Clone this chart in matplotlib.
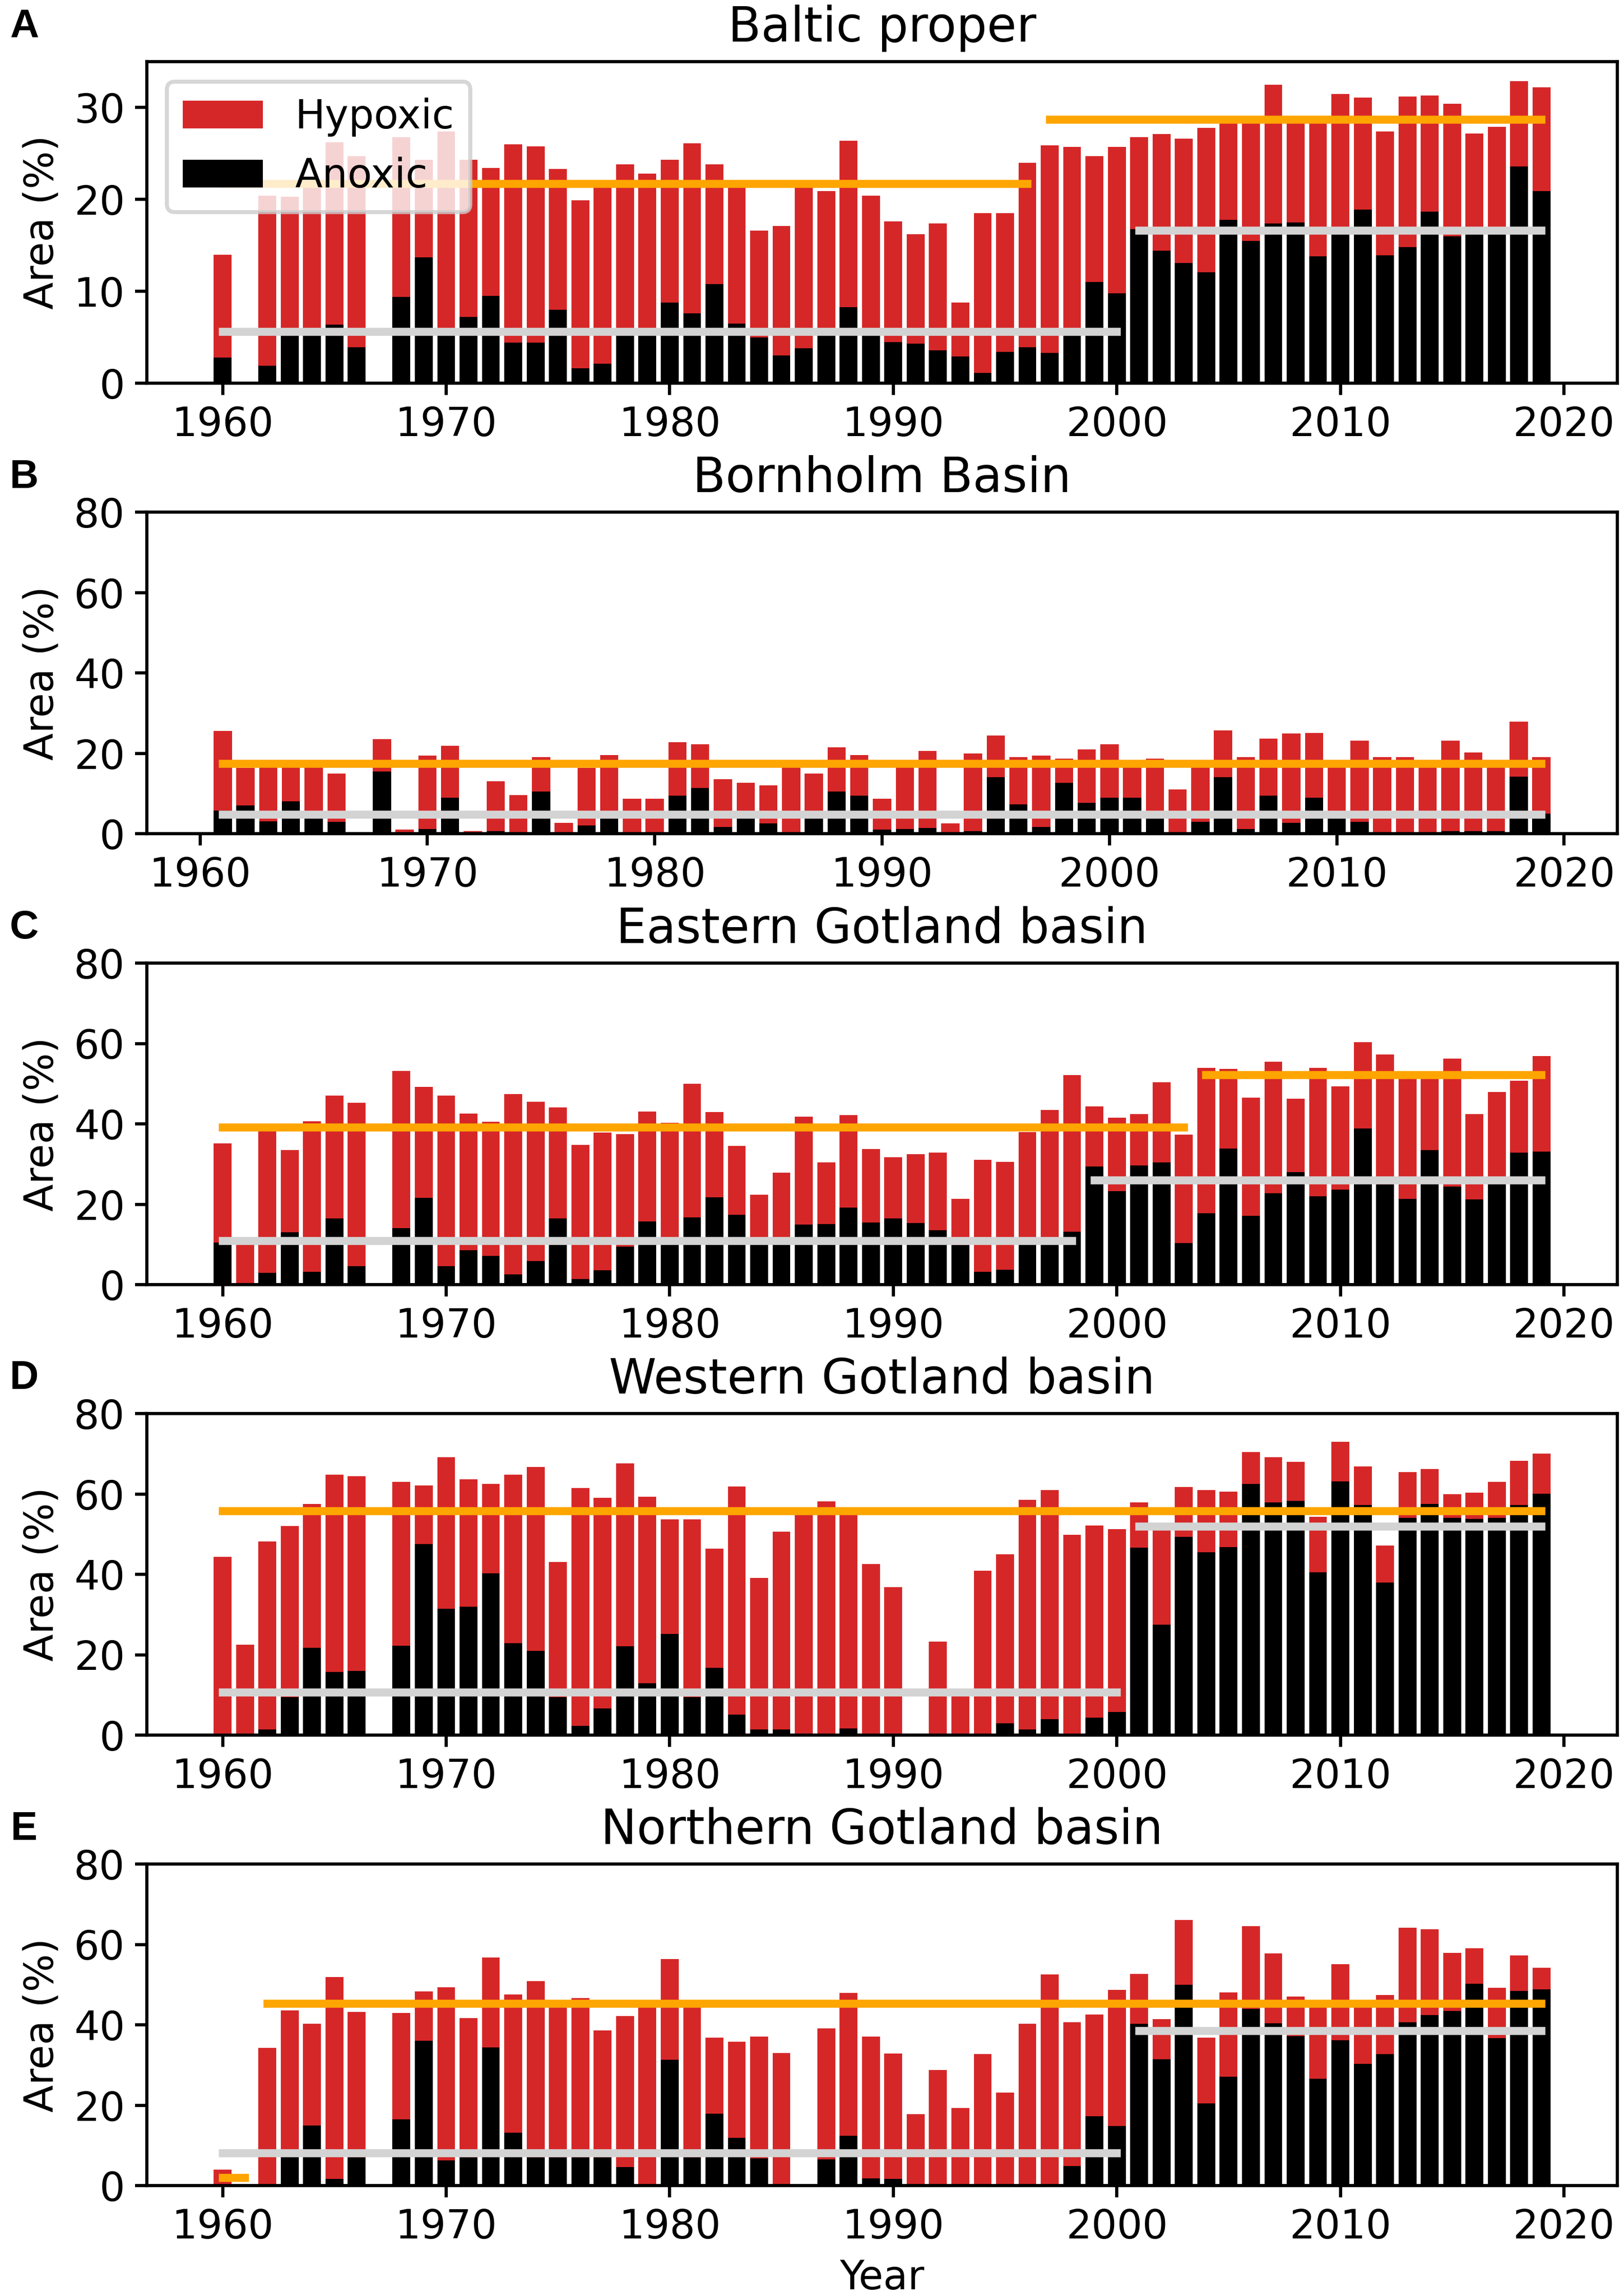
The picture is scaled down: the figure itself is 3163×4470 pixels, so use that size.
import numpy as np
import matplotlib
matplotlib.use('Agg')
from matplotlib import pyplot as plt

nan = np.nan
years = np.arange(1960, 2020)

# Baltic proper
baltic_hyp = [14.0, nan, 20.4, 20.3, 21.5, 26.2, 24.7, nan, 26.8, 24.3,
              27.4, 24.3, 23.4, 26.0, 25.8, 23.3, 19.9, 22.1, 23.8, 22.8,
              24.3, 26.1, 23.8, 21.5, 16.6, 17.1, 22.0, 20.9, 26.4, 20.4,
              17.6, 16.2, 17.4, 8.8, 18.5, 18.5, 24.0, 25.9, 25.7, 24.7,
              25.7, 26.8, 27.1, 26.6, 27.8, 28.4, 28.6, 32.5, 28.5, 28.6,
              31.5, 31.1, 27.4, 31.2, 31.3, 30.4, 27.2, 27.9, 32.9, 32.2]
baltic_anox = [2.8, nan, 1.9, 5.5, 5.4, 6.4, 3.9, nan, 9.4, 13.7,
               5.4, 7.2, 9.5, 4.4, 4.4, 8.0, 1.6, 2.1, 5.4, 5.4,
               8.8, 7.6, 10.8, 6.5, 5.0, 3.0, 3.8, 5.4, 8.3, 5.3,
               4.5, 4.3, 3.6, 2.9, 1.1, 3.4, 3.9, 3.3, 5.5, 11.0,
               9.8, 16.8, 14.4, 13.1, 12.1, 17.8, 15.5, 17.4, 17.5, 13.8,
               16.5, 18.9, 13.9, 14.8, 18.7, 16.0, 16.5, 16.5, 23.6, 20.9]
baltic_hyp_mean = [(1960, 1996, 21.7), (1997, 2019, 28.7)]
baltic_anox_mean = [(1960, 2000, 5.6), (2001, 2019, 16.6)]

# Bornholm Basin
born_hyp = [nan, 25.5, 16.3, 17.0, 17.2, 16.6, 14.9, nan, 23.5, 1.0,
            19.4, 21.8, 0.6, 13.0, 9.6, 19.1, 2.7, 16.3, 19.6, 8.7,
            8.7, 22.7, 22.2, 13.6, 12.7, 12.0, 17.0, 14.9, 21.5, 19.6,
            8.7, 16.5, 20.6, 2.5, 20.0, 24.4, 19.1, 19.4, 18.6, 21.0,
            22.3, 17.8, 18.6, 11.0, 17.0, 25.7, 19.0, 23.7, 24.9, 25.1,
            17.0, 23.1, 19.1, 19.0, 17.0, 23.1, 20.2, 17.0, 27.9, 19.0]
born_anox = [nan, 5.7, 7.0, 3.1, 8.1, 4.5, 3.0, nan, 15.5, 0.0,
             1.1, 8.9, 0.0, 0.7, 0.0, 10.5, 0.0, 2.0, 4.5, 0.0,
             0.0, 9.4, 11.4, 1.7, 4.0, 2.6, 0.0, 4.5, 10.5, 9.4,
             1.0, 1.1, 1.4, 0.0, 0.6, 14.0, 7.3, 1.7, 12.7, 7.7,
             9.0, 9.0, 4.5, 0.0, 3.0, 14.0, 1.1, 9.4, 2.7, 8.9,
             4.5, 3.0, 0.0, 0.0, 0.0, 0.7, 0.7, 0.6, 14.2, 5.0]
born_hyp_mean = [(1961, 2019, 17.4)]
born_anox_mean = [(1961, 2019, 4.7)]

# Eastern Gotland basin
egb_hyp = [35.1, 10.8, 38.5, 33.5, 40.7, 47.0, 45.2, nan, 53.2, 49.2,
           47.0, 42.5, 40.5, 47.4, 45.5, 44.1, 34.7, 37.8, 37.5, 43.1,
           40.3, 50.0, 42.9, 34.5, 22.4, 27.8, 41.8, 30.4, 42.2, 33.7,
           31.7, 32.5, 32.9, 21.3, 31.1, 30.5, 38.0, 43.5, 52.2, 44.3,
           41.5, 42.4, 50.4, 37.3, 53.9, 53.7, 46.5, 55.5, 46.3, 53.9,
           49.3, 60.3, 57.3, 51.5, 51.5, 56.2, 42.4, 47.9, 50.7, 56.9]
egb_anox = [10.5, 0.0, 3.0, 13.0, 3.2, 16.5, 4.6, nan, 14.1, 21.6,
            4.6, 8.5, 7.1, 2.5, 5.9, 16.5, 1.4, 3.6, 9.5, 15.7,
            10.0, 16.7, 21.7, 17.4, 10.0, 10.0, 15.0, 15.1, 19.2, 15.4,
            16.5, 15.3, 13.5, 9.8, 3.2, 3.7, 10.0, 10.0, 13.1, 29.4,
            23.3, 29.6, 30.4, 10.3, 17.8, 33.9, 17.1, 22.8, 28.0, 22.0,
            23.7, 38.8, 24.9, 21.3, 33.5, 24.4, 21.2, 25.0, 32.8, 33.1]
egb_hyp_mean = [(1960, 2003, 39.1), (2004, 2019, 52.2)]
egb_anox_mean = [(1960, 1998, 10.8), (1999, 2019, 25.9)]

# Western Gotland basin
wgb_hyp = [44.3, 22.5, 48.2, 52.0, 57.5, 64.8, 64.4, nan, 63.0, 62.1,
           69.2, 63.7, 62.5, 64.8, 66.7, 43.1, 61.5, 59.0, 67.6, 59.3,
           53.7, 53.7, 46.4, 61.9, 39.1, 50.6, 55.5, 58.1, 56.0, 42.6,
           36.8, nan, 23.2, 10.5, 40.9, 45.0, 58.5, 60.9, 49.9, 52.2,
           51.3, 57.9, 51.0, 61.7, 60.9, 60.6, 70.4, 69.2, 68.0, 54.3,
           73.0, 66.8, 47.2, 65.4, 66.2, 60.0, 60.3, 63.0, 68.2, 70.0]
wgb_anox = [0.0, 0.0, 1.4, 9.5, 21.7, 15.7, 16.0, nan, 22.3, 47.5,
            31.4, 31.9, 40.3, 22.9, 21.0, 9.5, 2.3, 6.7, 22.1, 12.9,
            25.2, 9.5, 16.8, 5.1, 1.4, 1.4, 0.2, 0.2, 1.7, 0.2,
            0.0, nan, 0.0, 0.3, 0.3, 3.0, 1.4, 4.0, 0.0, 4.3,
            5.7, 46.6, 27.5, 49.3, 45.5, 46.8, 62.5, 57.9, 58.3, 40.5,
            63.1, 57.3, 38.0, 54.0, 57.5, 54.0, 53.8, 54.0, 57.2, 60.1]
wgb_hyp_mean = [(1960, 2019, 55.7)]
wgb_anox_mean = [(1960, 2000, 10.6), (2001, 2019, 51.9)]

# Northern Gotland basin
ngb_hyp = [4.0, nan, 34.3, 43.6, 40.2, 51.9, 43.2, nan, 43.0, 48.3,
           49.3, 41.6, 56.7, 47.6, 50.9, 45.5, 46.6, 38.6, 42.2, 44.5,
           56.3, 44.5, 36.8, 35.8, 37.1, 33.0, nan, 39.1, 47.9, 37.1,
           32.8, 17.8, 28.7, 19.3, 32.7, 23.1, 40.2, 52.5, 40.7, 42.6,
           48.7, 52.7, 41.4, 66.1, 36.8, 48.0, 64.5, 57.7, 47.0, 45.0,
           55.1, 45.0, 47.4, 64.1, 63.8, 57.9, 59.1, 49.2, 57.2, 54.2]
ngb_anox = [0.0, nan, 0.0, 8.5, 15.0, 1.6, 7.0, nan, 16.5, 36.0,
            6.2, 7.0, 34.4, 13.2, 7.0, 7.0, 7.0, 7.0, 4.6, 0.3,
            31.3, 7.0, 17.9, 11.9, 6.8, 0.0, nan, 6.5, 12.4, 1.8,
            1.6, 0.0, 0.0, 0.0, 0.0, 0.0, 0.2, 0.0, 4.8, 17.2,
            14.8, 40.2, 31.5, 50.0, 20.5, 27.1, 44.0, 40.4, 37.2, 26.6,
            36.2, 30.3, 32.7, 40.6, 42.4, 43.4, 50.2, 36.7, 48.4, 48.8]
ngb_hyp_mean = [(1960, 1961, 1.9), (1962, 2019, 45.2)]
ngb_anox_mean = [(1960, 2000, 8.0), (2001, 2019, 38.5)]

panels = [
    ('A', 'Baltic proper', baltic_hyp, baltic_anox, baltic_hyp_mean, baltic_anox_mean),
    ('B', 'Bornholm Basin', born_hyp, born_anox, born_hyp_mean, born_anox_mean),
    ('C', 'Eastern Gotland basin', egb_hyp, egb_anox, egb_hyp_mean, egb_anox_mean),
    ('D', 'Western Gotland basin', wgb_hyp, wgb_anox, wgb_hyp_mean, wgb_anox_mean),
    ('E', 'Northern Gotland basin', ngb_hyp, ngb_anox, ngb_hyp_mean, ngb_anox_mean),
]

W, H = 3163, 4470
DPI = 562
plt.rcParams['xtick.major.size'] = 3.0
plt.rcParams['ytick.major.size'] = 3.0
plt.rcParams['xtick.major.pad'] = 2.5
plt.rcParams['ytick.major.pad'] = 2.5
fig = plt.figure(figsize=(W / DPI, H / DPI), dpi=DPI)

# axes tops in pixels, from the reference
tops = [120, 997, 1875, 2752, 3629]
ax_h = 626
left, right = 286, 3150

for i, (letter, title, hyp, anox, hyp_mean, anox_mean) in enumerate(panels):
    top = tops[i]
    ax = fig.add_axes([left / W, 1 - (top + ax_h) / H, (right - left) / W, ax_h / H])
    hyp = np.array(hyp)
    anox = np.array(anox)
    ok = ~np.isnan(hyp)
    b1 = ax.bar(years[ok], hyp[ok], color='#d62728', label='Hypoxic')
    b2 = ax.bar(years[ok], anox[ok], color='black', label='Anoxic')
    for s, e, v in hyp_mean:
        ax.plot([s, e], [v, v], color='orange', lw=2)
    for s, e, v in anox_mean:
        ax.plot([s, e], [v, v], color='lightgray', lw=2)
    ax.set_title(title, fontsize=12, pad=5)
    ax.set_ylabel('Area (%)', labelpad=3)
    if i > 0:
        ax.set_ylim(0, 80)
    else:
        ax.set_ylim(0, 35)
        ax.legend(handles=[b1, b2], loc='upper left')
    if i == len(panels) - 1:
        ax.set_xlabel('Year', labelpad=3)
    fig.text(0.0149, 1 - (top - 68) / H, letter, fontsize=10, fontweight='bold',
             family=['Liberation Sans', 'DejaVu Sans'], ha='center', va='center')

fig.savefig('out.png', dpi=DPI)
